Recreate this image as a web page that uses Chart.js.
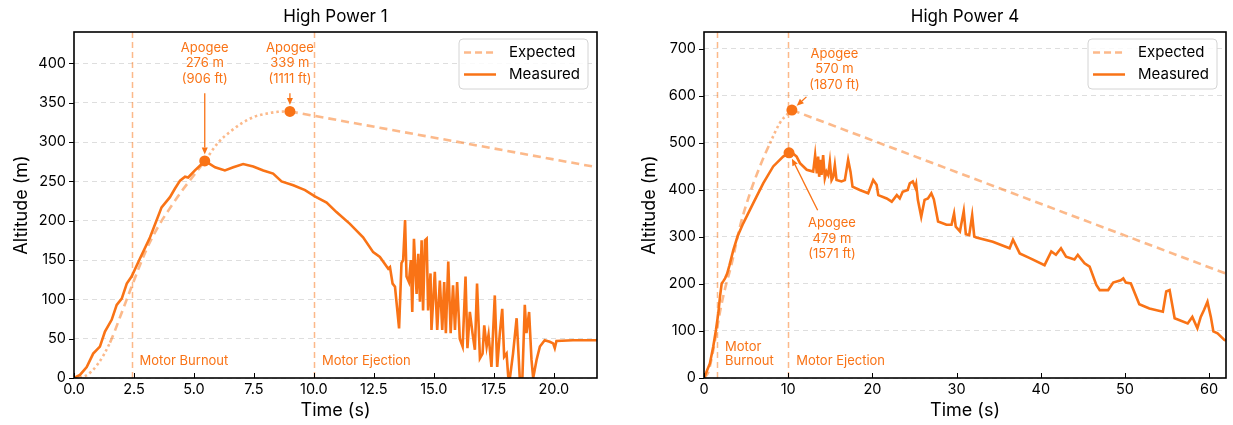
<!DOCTYPE html>
<html><head><meta charset="utf-8">
<script src="https://cdn.jsdelivr.net/npm/chart.js@4.4.1/dist/chart.umd.min.js"></script>
<style>
html,body{margin:0;padding:0;background:#fff;}
#wrap{position:relative;width:1233px;height:425px;overflow:hidden;}
canvas{position:absolute;top:0;}
#c1{left:0;width:616px;height:425px;} #c2{left:616px;width:617px;height:425px;}
</style></head><body>
<div id="wrap"><canvas id="c1" width="616" height="425"></canvas><canvas id="c2" width="617" height="425"></canvas></div>
<script>
// ---------- High Power 1 data ----------
const hp1Time = [0,0.25,0.53,0.8,1.08,1.29,1.57,1.78,1.99,2.2,
  2.4,2.75,3.17,3.65,4.0,4.21,4.42,4.63,4.76,5.04,
  5.46,5.88,6.29,6.64,7.05,7.47,7.89,8.3,8.65,9.14,
  9.63,10.04,10.53,10.94,11.5,12.05,12.47,12.75,13.1,13.17,
  13.28,13.38,13.55,13.65,13.72,13.8,13.86,13.96,14.04,14.1,
  14.17,14.28,14.35,14.42,14.49,14.55,14.63,14.7,14.76,14.86,
  14.9,15.04,15.14,15.25,15.35,15.43,15.5,15.6,15.7,15.8,
  15.88,15.97,16.08,16.2,16.32,16.4,16.5,16.61,16.71,16.8,
  16.92,17.03,17.1,17.2,17.28,17.4,17.54,17.64,17.75,17.85,
  17.93,18.03,18.1,18.17,18.3,18.45,18.58,18.69,18.79,18.86,
  18.97,19.07,19.14,19.28,19.42,19.62,19.83,19.97,20.04,20.11,
  20.8,21.8];
const hp1Measured = [0,4,14,31,40,59,74,93,101,120,
  129,152,179,217,230,241,251,256,255,264,
  276,268,264,268,272,269,264,260,250,245,
  239,231,223,211,196,179,160,154,139,141,
  120,116,63,146,150,201,129,122,150,84,
  177,107,158,97,175,86,175,177,86,133,
  61,135,61,124,61,122,57,148,57,118,
  61,122,50,40,129,38,84,57,36,120,
  25,31,67,40,55,14,105,14,57,88,
  27,31,2,0,31,76,0,0,93,57,
  84,23,0,23,40,48,46,44,38,47,
  48,48];
const hp1ExpTime = [0,0.5,1.0,1.5,2.0,2.4,3.0,3.5,4.0,4.5,5.0,5.5,6.0,6.5,7.0,7.5,8.0,8.5,9.0,21.8];
const hp1Expected = [0,3,18,45,84,116,162,192,216,238,258,278,299,313,324,332,336,338.5,339,268];
const hp1EventTimes = [2.4, 10.0];
const hp1EventLabels = [['Motor Burnout'], ['Motor Ejection']];
const hp1ApogeeTime = [5.45, 9.0];
const hp1ApogeeAlt = [276, 339];
const hp1ApogeeLabels = [['Apogee','276 m','(906 ft)'], ['Apogee','339 m','(1111 ft)']];

// ---------- High Power 4 data ----------
const hp4Time = [0,0.7,1.1,1.42,1.7,1.9,2.1,2.3,2.5,2.75,
  3.0,3.48,4.0,4.66,5.85,7.03,8.22,9.4,10.1,10.6,
  11.0,11.4,12.2,12.97,13.2,13.4,13.56,13.68,13.84,13.96,
  14.15,14.35,14.55,14.75,14.95,15.15,15.35,15.54,15.74,16.33,
  16.73,17.12,17.4,17.64,18.5,19.5,20.1,20.5,20.7,21.7,
  22.3,22.9,23.25,23.6,24.2,24.44,24.8,25.1,25.2,25.4,
  25.8,26.2,26.6,27.0,27.3,27.8,28.8,29.4,29.7,29.9,
  30.4,30.85,31.1,31.5,31.85,32.1,32.35,34.3,36.3,36.7,
  37.5,38.7,40.45,41.25,41.8,42.4,43.0,44.0,44.4,45.2,
  45.8,46.6,47.0,48.0,48.6,49.5,49.8,50.1,50.7,51.7,
  52.9,54.5,54.9,55.3,55.9,57.45,58.0,58.6,59.0,59.4,
  59.8,60.2,60.5,61.0,61.8,62];
const hp4Measured = [0,31,67,102,138,173,201,206,212,222,
  238,272,302,329,372,414,450,471,479,477,
  471,457,443,439,474,435,471,428,464,432,
  474,425,439,432,460,421,428,453,421,418,
  421,464,439,407,400,393,421,411,389,382,
  375,389,382,396,400,414,418,405,412,379,
  343,379,382,393,380,333,326,326,350,322,
  312,355,306,304,346,301,299,290,276,294,
  265,255,240,269,262,276,258,252,262,244,
  237,198,187,187,203,208,212,203,201,157,
  148,141,184,187,127,116,130,106,130,145,
  162,130,99,95,81,80];
const hp4ExpTime = [0,0.5,1.0,1.5,2.0,2.5,3.3,4.27,5.46,6.64,7.83,9.0,10.0,10.44,62];
const hp4Expected = [0,12,50,100,150,190,244,322,393,450,499,542,563,570,222];
const hp4EventTimes = [1.55, 10.0];
const hp4EventLabels = [['Motor','Burnout'], ['Motor Ejection']];
const hp4ApogeeTime = [10.1, 10.44];
const hp4ApogeeAlt = [479, 570];
const hp4ApogeeLabels = [['Apogee','479 m','(1571 ft)'], ['Apogee','570 m','(1870 ft)']];

// ---------- styling ----------
const MEAS = '#f97316';
const EXP = 'rgba(249,115,22,0.5)';
const TXT = '#f97316';
const FONT = 'Inter';
Chart.defaults.font.family = FONT;
Chart.defaults.color = '#000';

const pts = (xs, ys) => xs.map((x, i) => ({x, y: ys[i]}));

const decor = {
  id: 'decor',
  beforeDatasetsDraw(chart, args, o) {
    const {ctx, chartArea: a, scales: {x}} = chart;
    ctx.save();
    ctx.strokeStyle = EXP; ctx.lineWidth = 1.5; ctx.setLineDash([6, 4]);
    o.events.forEach(t => {
      const px = Math.round(x.getPixelForValue(t)) + 0.5;
      ctx.beginPath(); ctx.moveTo(px, a.top); ctx.lineTo(px, a.bottom); ctx.stroke();
    });
    ctx.setLineDash([]);
    ctx.fillStyle = TXT; ctx.font = '13px ' + FONT; ctx.textBaseline = 'middle'; ctx.textAlign = 'left';
    o.events.forEach((t, i) => {
      const lines = o.eventLabels[i];
      const px = x.getPixelForValue(t) + o.labelDx;
      lines.forEach((ln, j) => ctx.fillText(ln, px, a.bottom - 17 - (lines.length - 1 - j) * 13.5));
    });
    ctx.restore();
  },
  afterDatasetsDraw(chart, args, o) {
    const {ctx, scales: {x, y}} = chart;
    ctx.save();
    ctx.fillStyle = TXT; ctx.strokeStyle = TXT;
    ctx.font = '13px ' + FONT; ctx.textAlign = 'center'; ctx.textBaseline = 'middle';
    o.notes.forEach((n, i) => {
      const lines = o.noteLabels[i];
      const cx = x.getPixelForValue(n.t), cy = y.getPixelForValue(n.alt);
      lines.forEach((ln, j) => ctx.fillText(ln, cx, cy + (j - 1) * 15.5));
      const sx = x.getPixelForValue(n.from[0]), sy = y.getPixelForValue(n.from[1]);
      const mx = x.getPixelForValue(o.apT[i]), my = y.getPixelForValue(o.apA[i]);
      const dx = mx - sx, dy = my - sy, d = Math.hypot(dx, dy);
      const ux = dx / d, uy = dy / d;
      const tx = mx - ux * 6.5, ty = my - uy * 6.5;
      const hl = 7, hw = 3;
      ctx.lineWidth = 1.3;
      ctx.beginPath(); ctx.moveTo(sx, sy); ctx.lineTo(tx - ux * hl, ty - uy * hl); ctx.stroke();
      ctx.beginPath();
      ctx.moveTo(tx, ty);
      ctx.lineTo(tx - ux * hl - uy * hw, ty - uy * hl + ux * hw);
      ctx.lineTo(tx - ux * hl + uy * hw, ty - uy * hl - ux * hw);
      ctx.closePath(); ctx.fill();
    });
    ctx.restore();
  },
  afterDraw(chart, args, o) {
    const {ctx, chartArea: a, scales: {x, y}} = chart;
    ctx.save();
    ctx.strokeStyle = '#000'; ctx.lineWidth = 1.6;
    ctx.strokeRect(a.left, a.top, a.right - a.left, a.bottom - a.top);
    ctx.lineWidth = 1;
    y.ticks.forEach(t => {
      const py = Math.round(y.getPixelForValue(t.value)) + 0.5;
      ctx.beginPath(); ctx.moveTo(a.left - 5, py); ctx.lineTo(a.left, py); ctx.stroke();
    });
    x.ticks.forEach(t => {
      const px = Math.round(x.getPixelForValue(t.value)) + 0.5;
      ctx.beginPath(); ctx.moveTo(px, a.bottom); ctx.lineTo(px, a.bottom - 5); ctx.stroke();
    });
    ctx.font = '15px ' + FONT;
    const labels = ['Expected', 'Measured'];
    const tw = Math.max(...labels.map(l => ctx.measureText(l).width));
    const bw = 50 + tw + 8, bh = 50;
    const bx = a.right - 9 - bw, by = a.top + 7;
    ctx.beginPath(); ctx.roundRect(bx, by, bw, bh, 4);
    ctx.fillStyle = 'rgba(255,255,255,0.85)'; ctx.fill();
    ctx.strokeStyle = '#d4d4d4'; ctx.lineWidth = 1; ctx.stroke();
    ctx.lineWidth = 2.6;
    ctx.strokeStyle = EXP; ctx.setLineDash([7, 4]);
    ctx.beginPath(); ctx.moveTo(bx + 5, by + 13.5); ctx.lineTo(bx + 37, by + 13.5); ctx.stroke();
    ctx.setLineDash([]);
    ctx.strokeStyle = MEAS;
    ctx.beginPath(); ctx.moveTo(bx + 5, by + 35.5); ctx.lineTo(bx + 37, by + 35.5); ctx.stroke();
    ctx.fillStyle = '#000'; ctx.textAlign = 'left'; ctx.textBaseline = 'middle';
    ctx.fillText(labels[0], bx + 50, by + 13.5);
    ctx.fillText(labels[1], bx + 50, by + 35.5);
    ctx.restore();
  }
};

function makeChart(id, c) {
  const inDotted = t => c.dotted.some(r => t >= r[0] - 1e-9 && t < r[1] - 1e-9);
  // split expected path at apogee: smooth ascent, straight descent
  const k = c.eT.indexOf(c.apT[1]);
  const expStyle = {borderColor: EXP, borderWidth: 2.6, borderDash: [8, 5], pointRadius: 0, order: 2,
    segment: {borderDash: ctx => inDotted(ctx.p0.parsed.x) ? [2.5, 3] : undefined}};
  return new Chart(document.getElementById(id), {
    type: 'line',
    data: {
      datasets: [
        {label: 'Apogee', data: pts(c.apT, c.apA), showLine: false, pointRadius: 5.5,
         pointBackgroundColor: MEAS, pointBorderWidth: 0, order: 0},
        {label: 'Measured', data: pts(c.mT, c.mA), borderColor: MEAS, borderWidth: 2.6,
         pointRadius: 0, tension: 0, order: 1},
        Object.assign({label: 'Expected', data: pts(c.eT.slice(0, k + 1), c.eA.slice(0, k + 1)),
         cubicInterpolationMode: 'monotone'}, expStyle),
        Object.assign({label: 'Expected (descent)', data: pts(c.eT.slice(k), c.eA.slice(k)),
         tension: 0}, expStyle)
      ]
    },
    options: {
      responsive: false, animation: false, devicePixelRatio: 1,
      layout: {padding: {left: 0, right: c.padRight, top: 0, bottom: 0}},
      plugins: {
        legend: {display: false}, tooltip: {enabled: false},
        title: {display: true, text: c.title, fullSize: false, color: '#000',
                font: {size: 17, weight: 'normal'}, padding: {top: 6.5, bottom: 5.1}},
        decor: {events: c.events, eventLabels: c.eventLabels, labelDx: c.labelDx,
                notes: c.notes, noteLabels: c.noteLabels, apT: c.apT, apA: c.apA}
      },
      scales: {
        x: {type: 'linear', min: 0, max: c.xMax,
            ticks: {stepSize: c.xStep, includeBounds: false, color: '#000', font: {size: 14.5},
                    padding: 3, maxRotation: 0, autoSkip: false, callback: c.xFmt},
            grid: {display: false, drawTicks: false}, border: {display: false},
            title: {display: true, text: 'Time (s)', color: '#000', font: {size: 18},
                    padding: {top: 0, bottom: 3.5}},
            afterFit: s => { s.height = 47; }},
        y: {type: 'linear', min: 0, max: c.yMax,
            ticks: {stepSize: c.yStep, includeBounds: false, color: '#000', font: {size: 14.5}, padding: 8},
            grid: {color: '#dedede', lineWidth: 1, drawTicks: false},
            border: {display: false, dash: [5, 4]},
            title: {display: true, text: 'Altitude (m)', color: '#000', font: {size: 18},
                    padding: {top: c.yTitlePad, bottom: 0}},
            afterFit: s => { s.width = c.yWidth; }}
      }
    },
    plugins: [decor]
  });
}

makeChart('c1', {
  title: 'High Power 1', mT: hp1Time, mA: hp1Measured, eT: hp1ExpTime, eA: hp1Expected,
  apT: hp1ApogeeTime, apA: hp1ApogeeAlt, events: hp1EventTimes, eventLabels: hp1EventLabels,
  noteLabels: hp1ApogeeLabels,
  notes: [{t: 5.45, alt: 400, from: [5.45, 362]}, {t: 9.0, alt: 400, from: [9.0, 362]}],
  dotted: [[0, 1.4], [5.4, 9.0]],
  xMax: 21.8, xStep: 2.5, xFmt: v => v.toFixed(1), yMax: 440, yStep: 50,
  yWidth: 74, padRight: 19, yTitlePad: 11.2, labelDx: 8
});
makeChart('c2', {
  title: 'High Power 4', mT: hp4Time, mA: hp4Measured, eT: hp4ExpTime, eA: hp4Expected,
  apT: hp4ApogeeTime, apA: hp4ApogeeAlt, events: hp4EventTimes, eventLabels: hp4EventLabels,
  noteLabels: hp4ApogeeLabels,
  notes: [{t: 15.2, alt: 296, from: [13.5, 357]}, {t: 15.5, alt: 657, from: [12.17, 598]}],
  dotted: [[7.3, 10.44]],
  xMax: 62, xStep: 10, xFmt: v => String(Math.round(v)), yMax: 736, yStep: 100,
  yWidth: 88, padRight: 7, yTitlePad: 23.2, labelDx: 8
});
</script>
</body></html>
